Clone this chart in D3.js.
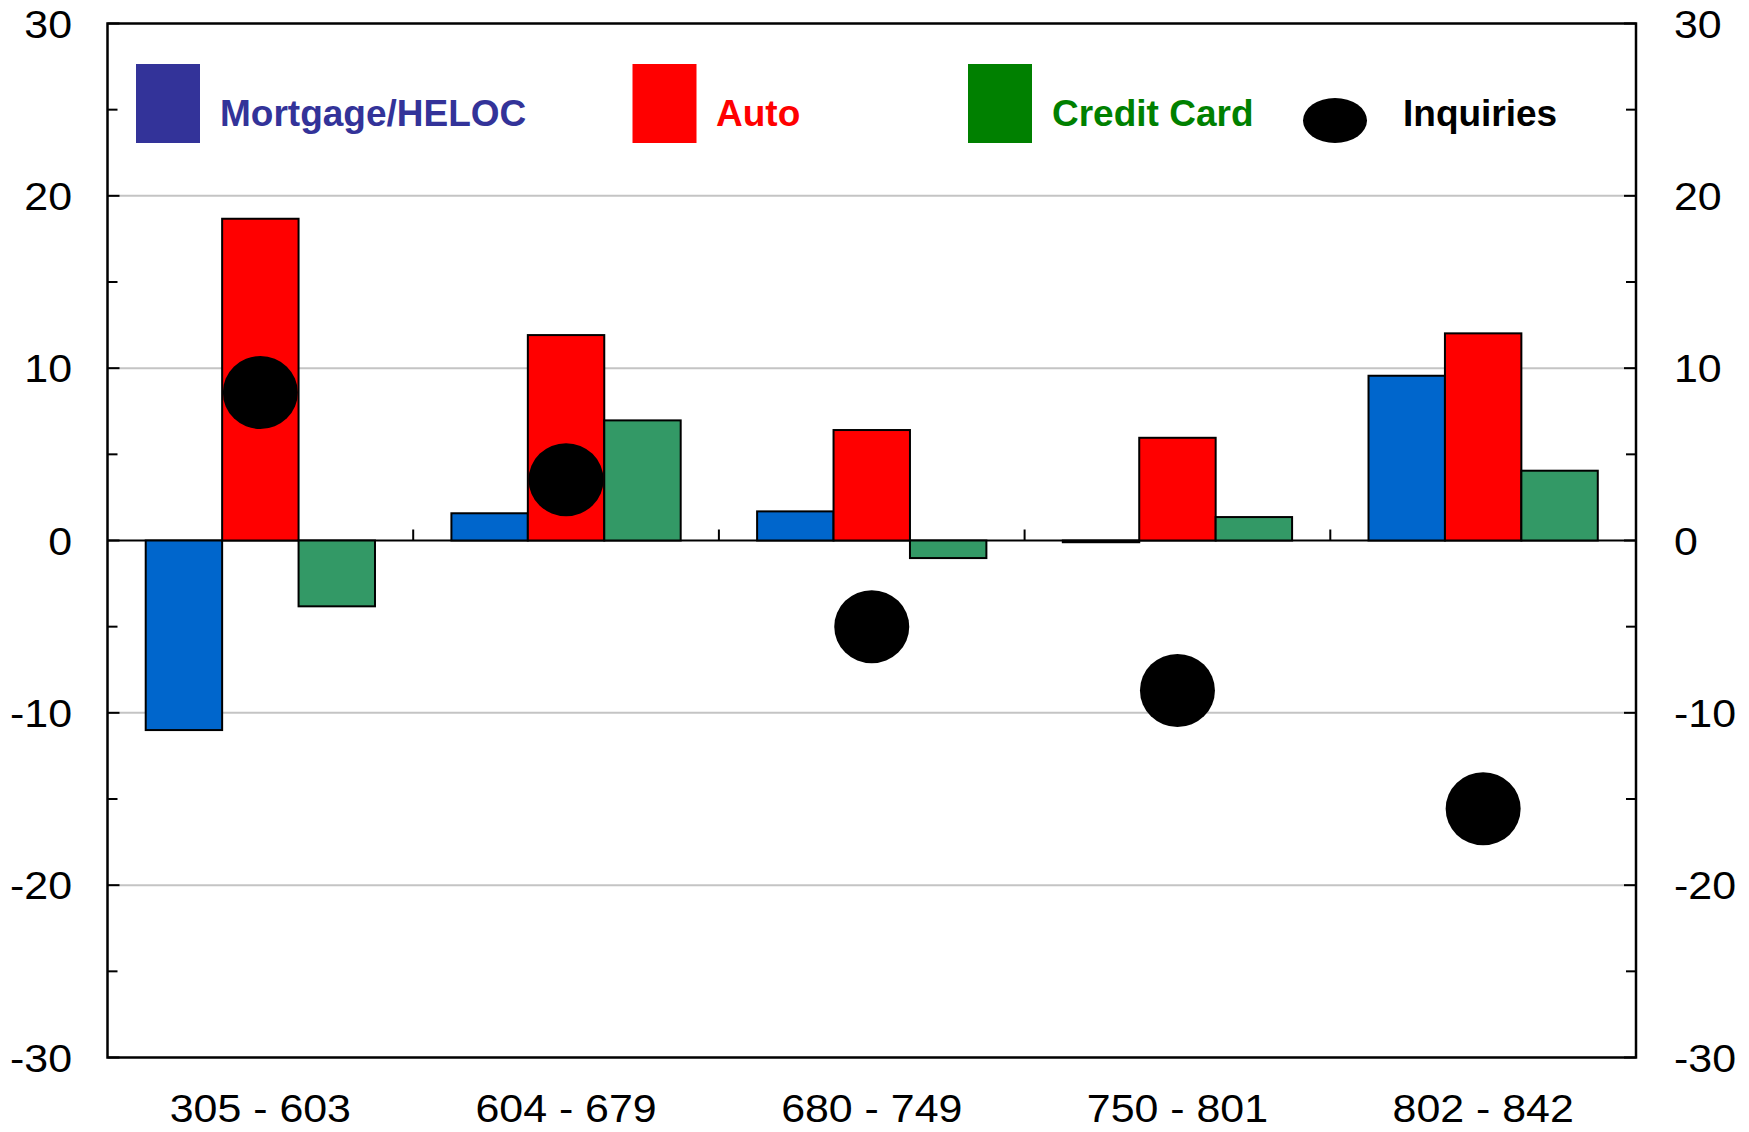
<!DOCTYPE html>
<html>
<head>
<meta charset="utf-8">
<script src="https://cdn.jsdelivr.net/npm/d3@7"></script>
<style>
  html, body { margin: 0; padding: 0; background: #fff; }
  svg { display: block; }
  text { font-family: "Liberation Sans", Arial, sans-serif; }
</style>
</head>
<body>
<svg id="chart" width="1749" height="1132"></svg>
<script>
// ---- data ----
const categories = ["305 - 603", "604 - 679", "680 - 749", "750 - 801", "802 - 842"];
const seriesNames = ["Mortgage/HELOC", "Auto", "Credit Card"];
const mortgage   = [-11.0, 1.58, 1.69, -0.1, 9.56];
const auto       = [18.67, 11.92, 6.41, 5.96, 12.02];
const creditCard = [-3.82, 6.97, -1.02, 1.36, 4.05];
const inquiries  = [8.59, 3.53, -5.0, -8.7, -15.57];
const yTicks = [-30, -20, -10, 0, 10, 20, 30];
const yMinorTicks = [-25, -15, -5, 5, 15, 25];

const barFill    = ["#0066CC", "#FF0000", "#339966"];
const legendFill = ["#333399", "#FF0000", "#008000"];

(function () {
// ---- layout ----
const pLeft = 107.5, pRight = 1636, pTop = 23.5, pBottom = 1057.5;
const svg = d3.select("#chart");

const x = d3.scaleBand().domain(categories).range([pLeft, pRight]).paddingInner(0).paddingOuter(0);
const xs = d3.scaleBand().domain(seriesNames).range([0, x.bandwidth()]).paddingInner(0).paddingOuter(0.5);
const y = d3.scaleLinear().domain([-30, 30]).range([pBottom, pTop]);

const seriesValues = [mortgage, auto, creditCard];

// gridlines
svg.append("g").selectAll("line").data(yTicks.filter(t => t !== 0 && Math.abs(t) !== 30)).join("line")
  .attr("x1", pLeft).attr("x2", pRight)
  .attr("y1", d => y(d)).attr("y2", d => y(d))
  .attr("stroke", "#C4C4C4").attr("stroke-width", 2);

// zero line
svg.append("line").attr("x1", pLeft).attr("x2", pRight).attr("y1", y(0)).attr("y2", y(0))
  .attr("stroke", "#000").attr("stroke-width", 2);

// category separator ticks on zero line
svg.append("g").selectAll("line").data(categories.slice(1)).join("line")
  .attr("x1", d => x(d)).attr("x2", d => x(d))
  .attr("y1", y(0)).attr("y2", y(0) - 11)
  .attr("stroke", "#000").attr("stroke-width", 2);

// bars
const gBars = svg.append("g");
seriesValues.forEach((vals, si) => {
  gBars.append("g").selectAll("rect").data(vals).join("rect")
    .attr("x", (d, i) => x(categories[i]) + xs(seriesNames[si]))
    .attr("width", xs.bandwidth())
    .attr("y", d => Math.min(y(d), y(0)))
    .attr("height", d => Math.abs(y(d) - y(0)))
    .attr("fill", barFill[si])
    .attr("stroke", "#000").attr("stroke-width", 2);
});

// inquiries dots
svg.append("g").selectAll("ellipse").data(inquiries).join("ellipse")
  .attr("cx", (d, i) => x(categories[i]) + x.bandwidth() / 2)
  .attr("cy", d => y(d))
  .attr("rx", 37.5).attr("ry", 36.5)
  .attr("fill", "#000");

// frame
svg.append("rect").attr("x", pLeft).attr("y", pTop).attr("width", pRight - pLeft).attr("height", pBottom - pTop)
  .attr("fill", "none").attr("stroke", "#000").attr("stroke-width", 2.5);

// axis ticks (inward) on both sides
const tickG = svg.append("g").attr("stroke", "#000").attr("stroke-width", 2);
yTicks.forEach(t => {
  tickG.append("line").attr("x1", pLeft).attr("x2", pLeft + 12).attr("y1", y(t)).attr("y2", y(t));
  tickG.append("line").attr("x1", pRight).attr("x2", pRight - 12).attr("y1", y(t)).attr("y2", y(t));
});
yMinorTicks.forEach(t => {
  tickG.append("line").attr("x1", pLeft).attr("x2", pLeft + 10).attr("y1", y(t)).attr("y2", y(t));
  tickG.append("line").attr("x1", pRight).attr("x2", pRight - 10).attr("y1", y(t)).attr("y2", y(t));
});

// axis labels
const lblSize = 39, stretch = 1.1;
svg.append("g").selectAll("text").data(yTicks).join("text")
  .attr("transform", d => `translate(72,${y(d) + 14}) scale(${stretch},1)`)
  .attr("text-anchor", "end").attr("font-size", lblSize).attr("fill", "#000")
  .text(d => d);
svg.append("g").selectAll("text").data(yTicks).join("text")
  .attr("transform", d => `translate(1674,${y(d) + 14}) scale(${stretch},1)`)
  .attr("text-anchor", "start").attr("font-size", lblSize).attr("fill", "#000")
  .text(d => d);
svg.append("g").selectAll("text").data(categories).join("text")
  .attr("transform", d => `translate(${x(d) + x.bandwidth() / 2},1122) scale(${stretch},1)`)
  .attr("text-anchor", "middle").attr("font-size", lblSize).attr("fill", "#000")
  .text(d => d);

// legend
const legendItems = [
  { name: seriesNames[0], sx: 136, tx: 220, color: legendFill[0], type: "rect" },
  { name: seriesNames[1], sx: 632.5, tx: 716, color: legendFill[1], type: "rect" },
  { name: seriesNames[2], sx: 968, tx: 1052, color: legendFill[2], type: "rect" },
  { name: "Inquiries", sx: 1303, tx: 1403, color: "#000", type: "ellipse" }
];
const lg = svg.append("g");
legendItems.forEach(it => {
  if (it.type === "rect") {
    lg.append("rect").attr("x", it.sx).attr("y", 64).attr("width", 64).attr("height", 79).attr("fill", it.color);
  } else {
    lg.append("ellipse").attr("cx", it.sx + 32).attr("cy", 120.5).attr("rx", 32).attr("ry", 22.5).attr("fill", it.color);
  }
  lg.append("text").attr("x", it.tx).attr("y", 126)
    .attr("font-size", 37).attr("font-weight", "bold").attr("fill", it.color)
    .text(it.name);
});
})();
</script>
</body>
</html>
